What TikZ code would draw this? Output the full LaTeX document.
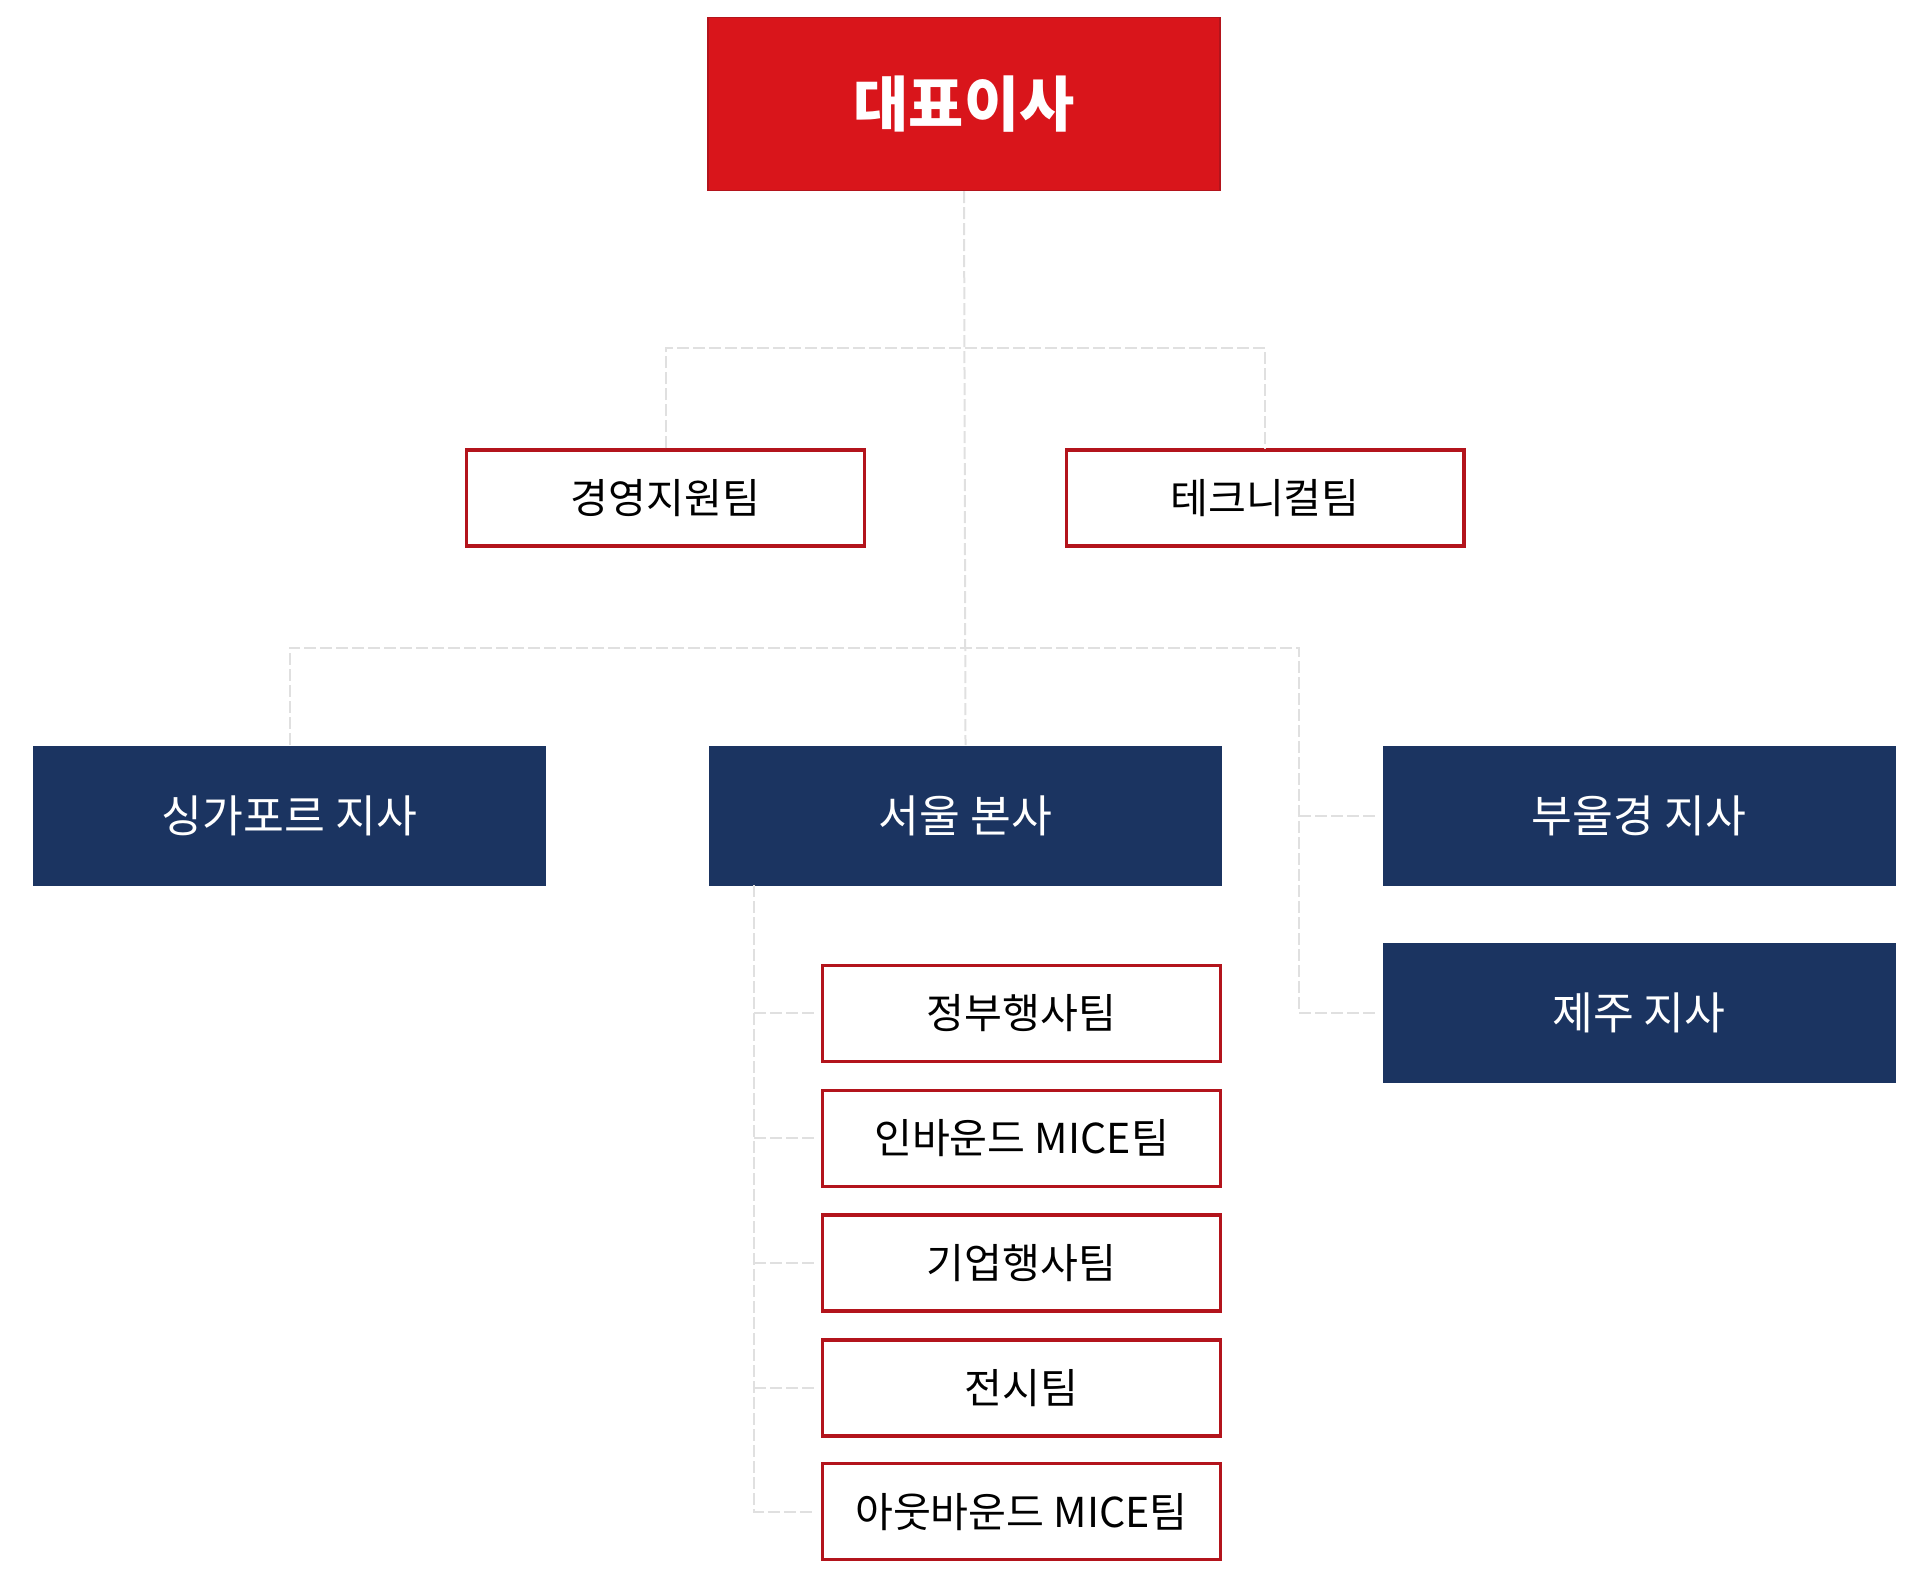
\documentclass[tikz,border=0pt]{standalone}
\usepackage{fontspec}
\setmainfont{Noto Sans CJK KR}
\usepackage{xcolor}
\usetikzlibrary{positioning}
\definecolor{ceored}{HTML}{D9151B}
\definecolor{teamred}{HTML}{B3141C}
\definecolor{branchnavy}{HTML}{1B3461}
\definecolor{linkgray}{HTML}{E0E0E0}

\begin{document}
\begin{tikzpicture}[x=0.5pt,y=-0.5pt,
    ceo/.style={fill=ceored, draw=teamred, line width=0.6pt, minimum width=256pt,
        minimum height=86.5pt, text=white, font=\fontsize{30}{34}\selectfont\bfseries},
    team/.style={fill=white, draw=teamred, line width=1.7pt, minimum width=198.8pt,
        minimum height=48pt, font=\fontsize{20.6}{24}\selectfont},
    branch/.style={fill=branchnavy, minimum width=256.5pt, minimum height=70pt,
        text=white, font=\fontsize{22.2}{26}\selectfont},
    link/.style={draw=linkgray, line width=1pt, dash pattern=on 6pt off 2pt}]
    			\useasboundingbox (0,0) rectangle (1920,1584);
    			
    			\node[ceo] (ceo) at (964,104) {대표이사};
    			\node[team] (mgmt) at (665.5,498) {경영지원팀};
    			\node[team] (tech) at (1265,498) {테크니컬팀};
    			
    			\node[branch] (sing) at (289.5,815.5) {싱가포르 지사};
    			\node[branch] (seoul) at (965.5,815.5) {서울 본사};
    			\node[branch] (busan) at (1639,815.5) {부울경 지사};
    			\node[branch] (jeju) at (1639,1012.7) {제주 지사};
    			
    			\foreach \y/\name/\label in {
    				1013.3/gov/정부행사팀,
    				1138.2/inbound/인바운드 MICE팀,
    				1263/corp/기업행사팀,
    				1388/expo/전시팀,
    				1511.7/outbound/아웃바운드 MICE팀
    			}{
    				\node[team] (\name) at (1021.5,\y) {\label};
    			}
    			
    			% connectors
    			\coordinate (bar1) at (964.5,347.8);
    			\coordinate (bar2) at (964.5,647.8);
    			\coordinate (rail) at (1299,647.8);
    			\coordinate (srail) at (754.3,885);
    			
    			\draw[link] (ceo.south) -- (seoul.north);
    			\draw[link] (mgmt.north) |- (bar1) -| (tech.north);
    			\draw[link] (sing.north) |- (bar2) -- (rail) |- ([xshift=-3pt]jeju.west);
    			\draw[link] (rail |- busan.west) -- ([xshift=-3pt]busan.west);
    			\draw[link] (srail) |- ([xshift=-3pt]outbound.west);
    			\foreach \name in {gov, inbound, corp, expo}{
    				\draw[link] (srail |- \name.west) -- ([xshift=-3pt]\name.west);
    			}
    		\end{tikzpicture}
\end{document}
